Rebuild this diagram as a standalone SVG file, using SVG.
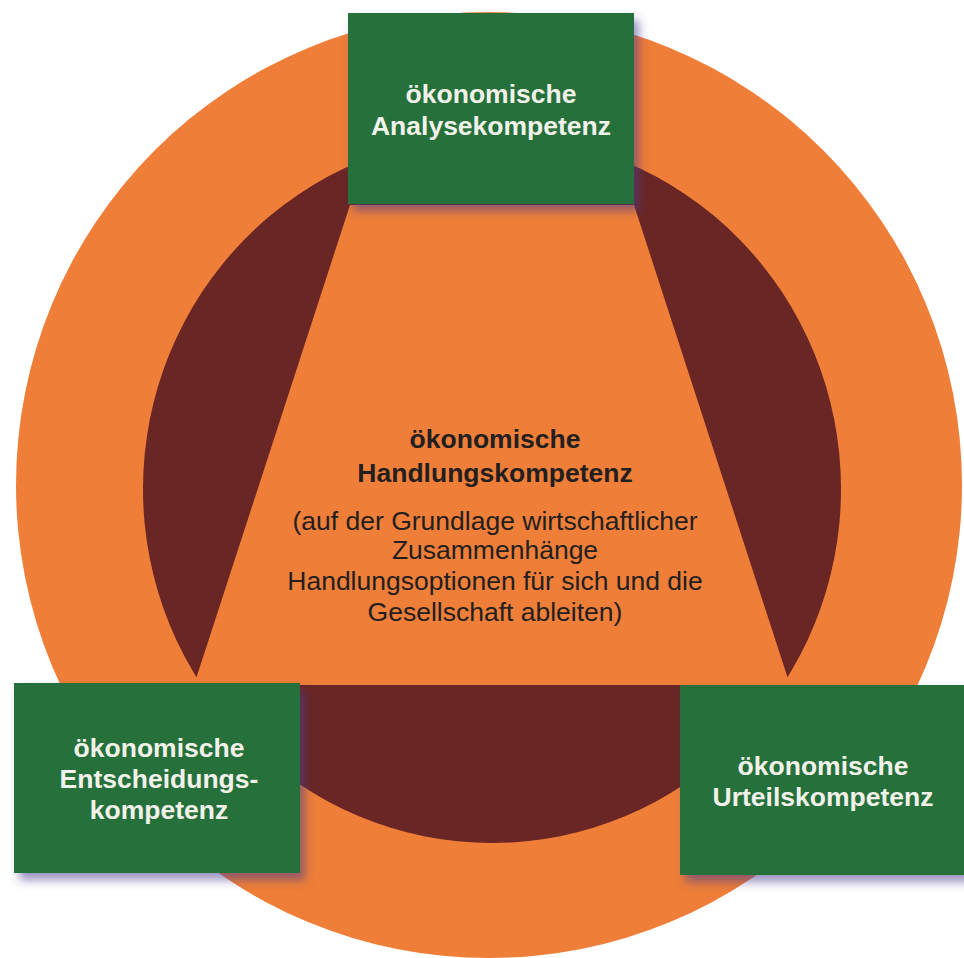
<svg xmlns="http://www.w3.org/2000/svg" width="964" height="958" viewBox="0 0 964 958">
<defs>
<filter id="sh" x="-10%" y="-10%" width="125%" height="130%">
<feDropShadow dx="5" dy="7" stdDeviation="5" flood-color="#4a3a90" flood-opacity="0.55"/>
</filter>
<style>
.box{fill:#27703a;filter:url(#sh);}
.bt{font-family:"Liberation Sans",Arial,sans-serif;font-weight:bold;font-size:26.5px;fill:#f2f2ea;text-anchor:middle;}
.ct{font-family:"Liberation Sans",Arial,sans-serif;font-size:26.5px;fill:#231f20;text-anchor:middle;}
.cb{font-weight:bold;}
</style>
</defs>
<rect width="964" height="958" fill="#ffffff"/>
<g id="background">
<circle cx="489" cy="485" r="473" fill="#ee7e38"/>
<ellipse cx="492" cy="489" rx="349" ry="354" fill="#692624"/>
<polygon points="350,205 634,205 790,685 194,685" fill="#ee7e38"/>
</g>
<g id="connectors"></g>
<g id="center">
<text class="ct cb" x="495" y="448">ökonomische</text>
<text class="ct cb" x="495" y="482">Handlungskompetenz</text>
<text class="ct" x="495" y="530">(auf der Grundlage wirtschaftlicher</text>
<text class="ct" x="495" y="559">Zusammenhänge</text>
<text class="ct" x="495" y="590">Handlungsoptionen für sich und die</text>
<text class="ct" x="495" y="621">Gesellschaft ableiten)</text>
</g>
<g id="analyse">
<rect class="box" x="348" y="13" width="286" height="191"/>
<text class="bt" x="491" y="103">ökonomische</text>
<text class="bt" x="491" y="135">Analysekompetenz</text>
</g>
<g id="entscheidung">
<rect class="box" x="14" y="683" width="286" height="190"/>
<text class="bt" x="159" y="757">ökonomische</text>
<text class="bt" x="159" y="788">Entscheidungs-</text>
<text class="bt" x="159" y="819">kompetenz</text>
</g>
<g id="urteil">
<rect class="box" x="680" y="685" width="290" height="190"/>
<text class="bt" x="823" y="775">ökonomische</text>
<text class="bt" x="823" y="806">Urteilskompetenz</text>
</g>
</svg>
